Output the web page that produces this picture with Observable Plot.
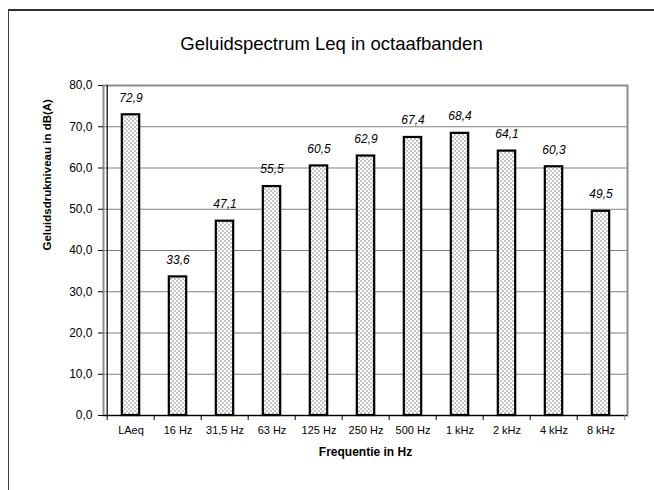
<!DOCTYPE html>
<html>
<head>
<meta charset="utf-8">
<script src="https://cdn.jsdelivr.net/npm/d3@7"></script>
<script src="https://cdn.jsdelivr.net/npm/@observablehq/plot@0.6"></script>
<style>
  html, body { margin: 0; padding: 0; background: #fff; }
  #wrap { position: relative; width: 654px; height: 490px; overflow: hidden; font-family: "Liberation Sans", Arial, sans-serif; }
  #frame { position: absolute; left: 8px; top: 9px; width: 700px; height: 600px; border-left: 1px solid #404040; border-top: 2px solid #303030; }
  #title { position: absolute; left: 9px; width: 645px; top: 33px; text-align: center; font-size: 18.5px; color: #000; }
  #chart { position: absolute; left: 0; top: 0; }
</style>
</head>
<body>
<div id="wrap">
  <div id="frame"></div>
  <div id="title">Geluidspectrum Leq in octaafbanden</div>
  <div id="chart"></div>
</div>
<script>
const categories = ["LAeq", "16 Hz", "31,5 Hz", "63 Hz", "125 Hz", "250 Hz", "500 Hz", "1 kHz", "2 kHz", "4 kHz", "8 kHz"];
const values = [72.9, 33.6, 47.1, 55.5, 60.5, 62.9, 67.4, 68.4, 64.1, 60.3, 49.5];
const yTicks = [0, 10, 20, 30, 40, 50, 60, 70, 80];
const yLabel = "Geluidsdrukniveau in dB(A)";
const xLabel = "Frequentie in Hz";

const data = categories.map((c, i) => ({cat: c, val: values[i]}));
const fmt = d => d.toFixed(1).replace(".", ",");

const W = 654, H = 490, mL = 103, mR = 27, mT = 85, mB = 75;
const bw = (W - mL - mR) / categories.length;
const plotH = H - mT - mB;
const barW = 18;
const inset = (bw - barW) / 2;

const chart = Plot.plot({
  width: W, height: H,
  marginLeft: mL, marginRight: mR, marginTop: mT, marginBottom: mB,
  style: {background: "transparent", fontFamily: "'Liberation Sans', Arial, sans-serif", fontSize: "11px", color: "#000"},
  x: {domain: categories, padding: 0, label: null},
  y: {domain: [0, 80], label: null},
  marks: [
    Plot.gridY(yTicks.slice(1, -1), {stroke: "#808080", strokeOpacity: 1, strokeWidth: 1}),
    Plot.frame({stroke: "#8c8c8c", strokeWidth: 2}),
    Plot.barY(data, {x: "cat", y: "val", fill: "url(#checker)", stroke: "#000", strokeWidth: 2.2, insetLeft: inset, insetRight: inset}),
    Plot.ruleY([0], {stroke: "#000", strokeWidth: 1.2}),
    Plot.ruleX([categories[0]], {dx: -bw / 2, stroke: "#000", strokeWidth: 1.2}),
    Plot.ruleX(categories, {dx: -bw / 2, insetTop: plotH, insetBottom: -5, stroke: "#000"}),
    Plot.ruleX([categories[categories.length - 1]], {dx: bw / 2, insetTop: plotH, insetBottom: -5, stroke: "#808080"}),
    Plot.axisY(yTicks, {tickSize: 5, tickPadding: 6, tickFormat: fmt, label: null, fontSize: 12}),
    Plot.axisX({tickSize: 0, tickPadding: 11, label: null, fontSize: 11}),
    Plot.text(data, {x: "cat", y: "val", text: d => fmt(d.val), dy: -17, fontStyle: "italic", fontSize: 12}),
    Plot.text([yLabel], {frameAnchor: "left", dx: -56, rotate: -90, text: d => d, fontWeight: "bold", fontSize: 11.5}),
    Plot.text([xLabel], {frameAnchor: "bottom", dy: 40, text: d => d, fontWeight: "bold", fontSize: 12})
  ]
});

// checker pattern definition
const ns = "http://www.w3.org/2000/svg";
const defs = document.createElementNS(ns, "defs");
defs.innerHTML = `<pattern id="checker" width="4" height="4" patternUnits="userSpaceOnUse">
  <rect width="4" height="4" fill="#ffffff"/>
  <rect width="2" height="2" fill="#c4c4c4"/>
  <rect x="2" y="2" width="2" height="2" fill="#c4c4c4"/>
</pattern>`;
chart.insertBefore(defs, chart.firstChild);
document.getElementById("chart").appendChild(chart);
</script>
</body>
</html>
